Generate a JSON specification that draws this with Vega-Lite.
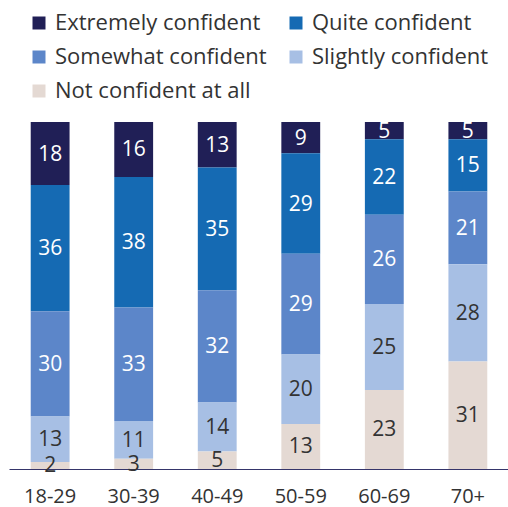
{
  "$schema": "https://vega.github.io/schema/vega-lite/v6.json",
  "width": 500,
  "height": 347,
  "autosize": {"type": "none"},
  "padding": {"left": 9, "top": 122, "right": 0, "bottom": 38},
  "background": "white",
  "config": {
    "view": {"stroke": null},
    "font": "Open Sans",
    "legend": {"padding": 0}
  },
  "data": {
    "values": [
      {"age": "18-29", "category": "Extremely confident", "rank": 5, "value": 18},
      {"age": "18-29", "category": "Quite confident", "rank": 4, "value": 36},
      {"age": "18-29", "category": "Somewhat confident", "rank": 3, "value": 30},
      {"age": "18-29", "category": "Slightly confident", "rank": 2, "value": 13},
      {"age": "18-29", "category": "Not confident at all", "rank": 1, "value": 2},
      {"age": "30-39", "category": "Extremely confident", "rank": 5, "value": 16},
      {"age": "30-39", "category": "Quite confident", "rank": 4, "value": 38},
      {"age": "30-39", "category": "Somewhat confident", "rank": 3, "value": 33},
      {"age": "30-39", "category": "Slightly confident", "rank": 2, "value": 11},
      {"age": "30-39", "category": "Not confident at all", "rank": 1, "value": 3},
      {"age": "40-49", "category": "Extremely confident", "rank": 5, "value": 13},
      {"age": "40-49", "category": "Quite confident", "rank": 4, "value": 35},
      {"age": "40-49", "category": "Somewhat confident", "rank": 3, "value": 32},
      {"age": "40-49", "category": "Slightly confident", "rank": 2, "value": 14},
      {"age": "40-49", "category": "Not confident at all", "rank": 1, "value": 5},
      {"age": "50-59", "category": "Extremely confident", "rank": 5, "value": 9},
      {"age": "50-59", "category": "Quite confident", "rank": 4, "value": 29},
      {"age": "50-59", "category": "Somewhat confident", "rank": 3, "value": 29},
      {"age": "50-59", "category": "Slightly confident", "rank": 2, "value": 20},
      {"age": "50-59", "category": "Not confident at all", "rank": 1, "value": 13},
      {"age": "60-69", "category": "Extremely confident", "rank": 5, "value": 5},
      {"age": "60-69", "category": "Quite confident", "rank": 4, "value": 22},
      {"age": "60-69", "category": "Somewhat confident", "rank": 3, "value": 26},
      {"age": "60-69", "category": "Slightly confident", "rank": 2, "value": 25},
      {"age": "60-69", "category": "Not confident at all", "rank": 1, "value": 23},
      {"age": "70+", "category": "Extremely confident", "rank": 5, "value": 5},
      {"age": "70+", "category": "Quite confident", "rank": 4, "value": 15},
      {"age": "70+", "category": "Somewhat confident", "rank": 3, "value": 21},
      {"age": "70+", "category": "Slightly confident", "rank": 2, "value": 28},
      {"age": "70+", "category": "Not confident at all", "rank": 1, "value": 31}
    ]
  },
  "encoding": {
    "x": {
      "field": "age",
      "type": "nominal",
      "sort": ["18-29", "30-39", "40-49", "50-59", "60-69", "70+"],
      "scale": {"paddingInner": 0.535, "paddingOuter": 0.26},
      "axis": {
        "title": null,
        "labelAngle": 0,
        "labelFontSize": 20,
        "labelColor": "#333333",
        "labelBaseline": "middle",
        "labelPadding": 27,
        "ticks": false,
        "domainColor": "#35356a",
        "domainWidth": 1.2
      }
    },
    "y": {
      "field": "value",
      "type": "quantitative",
      "stack": "normalize",
      "axis": null
    },
    "order": {"field": "rank", "type": "quantitative"}
  },
  "layer": [
    {
      "mark": {"type": "bar"},
      "encoding": {
        "color": {
          "field": "category",
          "type": "nominal",
          "scale": {
            "domain": ["Extremely confident", "Quite confident", "Somewhat confident", "Slightly confident", "Not confident at all"],
            "range": ["#201f56", "#156ab3", "#5c86c9", "#a7bfe4", "#e4d9d3"]
          },
          "legend": {
            "title": null,
            "orient": "none",
            "direction": "horizontal",
            "legendX": 19,
            "legendY": -110,
            "columns": 2,
            "symbolType": "square",
            "symbolSize": 169,
            "symbolStrokeWidth": 0,
            "labelFontSize": 22,
            "labelColor": "#333333",
            "labelOffset": 5,
            "rowPadding": 12,
            "columnPadding": 18,
            "labelLimit": 400
          }
        }
      }
    },
    {
      "mark": {"type": "text", "fontSize": 21, "baseline": "middle", "align": "center", "dy": 1},
      "encoding": {
        "y": {"field": "value", "type": "quantitative", "stack": "normalize", "bandPosition": 0.5},
        "detail": {"field": "category", "type": "nominal"},
        "text": {"field": "value", "type": "quantitative"},
        "color": {
          "condition": {
            "test": "datum.category === 'Slightly confident' || datum.category === 'Not confident at all'",
            "value": "#333333"
          },
          "value": "#ffffff"
        }
      }
    }
  ]
}
